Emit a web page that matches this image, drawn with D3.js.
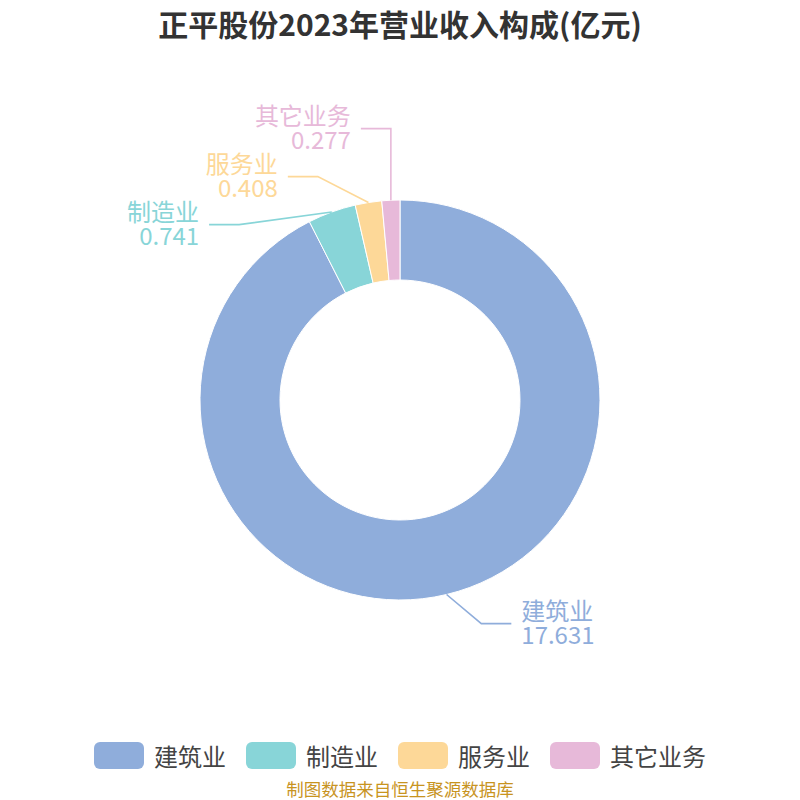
<!DOCTYPE html>
<html><head><meta charset="utf-8">
<script src="https://cdn.jsdelivr.net/npm/d3@7/dist/d3.min.js"></script>
<style>body{margin:0;background:#fff;}svg{display:block;font-family:"Noto Sans CJK SC","Noto Sans",sans-serif;}</style>
</head><body><svg id="c" width="800" height="800"></svg>
<script>
const categories = ["建筑业", "制造业", "服务业", "其它业务"];
const values = [17.631, 0.741, 0.408, 0.277];
const colors = ["#8faddb", "#88d5d8", "#fdd898", "#e7b9d9"];
const title = "正平股份2023年营业收入构成(亿元)";
const source = "制图数据来自恒生聚源数据库";

const svg = d3.select("#c");
const cx = 400, cy = 400, R = 200, r0 = 120;
const data = categories.map((c, i) => ({name: c, value: values[i], color: colors[i]}));

svg.append("text").attr("x", 400).attr("y", 23).attr("text-anchor", "middle")
  .attr("dominant-baseline", "central").attr("font-size", 30).attr("font-weight", "bold")
  .attr("fill", "#333").text(title);

const pie = d3.pie().value(d => d.value).sort(null);
const arcs = pie(data);
const arc = d3.arc().innerRadius(r0).outerRadius(R);
const g = svg.append("g").attr("transform", `translate(${cx},${cy})`);
g.selectAll("path").data(arcs).join("path").attr("d", arc)
  .attr("fill", d => d.data.color).attr("stroke", "#fff").attr("stroke-width", 1);

// label layout
const labels = arcs.map(a => {
  const m = (a.startAngle + a.endAngle) / 2;
  const s = Math.sin(m), c = -Math.cos(m);
  return {a, m, side: m > Math.PI ? -1 : 1,
    ox: R * s, oy: R * c, y: (R + 30) * c};
});
const gap = 48;
[-1, 1].forEach(side => {
  const grp = labels.filter(l => l.side === side).sort((p, q) => p.y - q.y);
  if (grp.length < 2) return;
  let overlap = false;
  for (let i = 1; i < grp.length; i++) if (grp[i].y - grp[i-1].y < gap) overlap = true;
  if (overlap) {
    const mean = d3.mean(grp, l => l.y);
    const n = grp.length;
    grp.forEach((l, i) => l.y = mean + 1 + (i - (n - 1) / 2) * gap);
  }
});
const Re = 238, L2 = 30;
labels.forEach(l => {
  const dx = Math.sqrt(Math.max(0, Re * Re - l.y * l.y));
  let ex = l.side * dx;
  ex = l.side > 0 ? Math.max(ex, l.ox) : Math.min(ex, l.ox);
  l.ex = ex;
  l.tx = ex + l.side * L2;
});
const lg = svg.append("g").attr("transform", `translate(${cx},${cy})`);
labels.forEach(l => {
  const col = l.a.data.color;
  lg.append("polyline").attr("points", `${l.ox},${l.oy} ${l.ex},${l.y} ${l.tx},${l.y}`)
    .attr("fill", "none").attr("stroke", col).attr("stroke-width", 1.6);
  const anchor = l.side > 0 ? "start" : "end";
  const x = l.tx + l.side * 10;
  lg.append("text").attr("x", x).attr("y", l.y - 14).attr("text-anchor", anchor)
    .attr("dominant-baseline", "central").attr("font-size", 24).attr("fill", col).text(l.a.data.name);
  lg.append("text").attr("x", x).attr("y", l.y + 10).attr("text-anchor", anchor)
    .attr("dominant-baseline", "central").attr("font-size", 24).attr("fill", col).text(l.a.data.value);
});

// legend
const fs = 24, rw = 50, rh = 27, tg = 10, ig = 20;
const widths = categories.map(c => rw + tg + c.length * fs);
const total = d3.sum(widths) + ig * (categories.length - 1);
let x0 = 400 - total / 2;
const leg = svg.append("g");
data.forEach((d, i) => {
  leg.append("rect").attr("x", x0).attr("y", 742).attr("width", rw).attr("height", rh)
    .attr("rx", 6).attr("fill", d.color);
  leg.append("text").attr("x", x0 + rw + tg).attr("y", 755.5).attr("dominant-baseline", "central")
    .attr("font-size", fs).attr("fill", "#444").text(d.name);
  x0 += widths[i] + ig;
});

svg.append("text").attr("x", 400).attr("y", 788).attr("text-anchor", "middle")
  .attr("dominant-baseline", "central").attr("font-size", 17.5).attr("fill", "#c8941f").text(source);
</script></body></html>
